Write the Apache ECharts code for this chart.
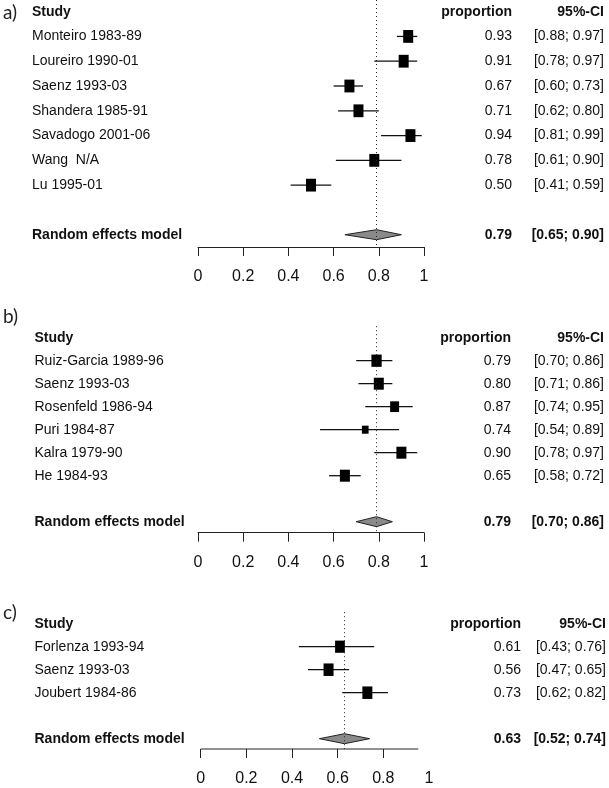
<!DOCTYPE html>
<html><head><meta charset="utf-8">
<script src="https://cdn.jsdelivr.net/npm/echarts@6/dist/echarts.min.js"></script>
<style>html,body{margin:0;padding:0;background:#fff}#c{width:609px;height:788px}</style>
</head><body><div id="c"></div><script>
// ---------- data ----------
const studiesA = ['Monteiro 1983-89','Loureiro 1990-01','Saenz 1993-03','Shandera 1985-91','Savadogo 2001-06','Wang  N/A','Lu 1995-01'];
const propA  = [0.93,0.91,0.67,0.71,0.94,0.78,0.50];
const lowerA = [0.88,0.78,0.60,0.62,0.81,0.61,0.41];
const upperA = [0.97,0.97,0.73,0.80,0.99,0.90,0.59];
const weightA = [1,1,1,1,1,1,1];
const pooledA = [0.79,0.65,0.90];

const studiesB = ['Ruiz-Garcia 1989-96','Saenz 1993-03','Rosenfeld 1986-94','Puri 1984-87','Kalra 1979-90','He 1984-93'];
const propB  = [0.79,0.80,0.87,0.74,0.90,0.65];
const lowerB = [0.70,0.71,0.74,0.54,0.78,0.58];
const upperB = [0.86,0.86,0.95,0.89,0.97,0.72];
const weightB = [1.05,1,0.8,0.45,1,1];
const pooledB = [0.79,0.70,0.86];

const studiesC = ['Forlenza 1993-94','Saenz 1993-03','Joubert 1984-86'];
const propC  = [0.61,0.56,0.73];
const lowerC = [0.43,0.47,0.62];
const upperC = [0.76,0.65,0.82];
const weightC = [0.95,1,1];
const pooledC = [0.63,0.52,0.74];

const panelLetters = ['a)','b)','c)'];
const headerLabels = ['Study','proportion','95%-CI'];
const pooledLabel = 'Random effects model';
const xTickValues = [0,0.2,0.4,0.6,0.8,1];
const xTickValuesC = [0,0.2,0.4,0.6,0.8];
const axisEndC = 0.953;

// ---------- layout ----------
const layouts = [
  {row0:11.5, pitch:24.8, yMin:-0.47, axisY:247, x0:198, x1:424, textX:32, propX:512, ciX:604, letterX:3, letterY:13, sqH:12.8},
  {row0:337.7, pitch:23, yMin:-0.5, axisY:532.7, x0:198, x1:424, textX:34.5, propX:511, ciX:604, letterX:3, letterY:317, sqH:12},
  {row0:623.7, pitch:23, yMin:-0.5, axisY:749, x0:200.7, x1:429, textX:34.5, propX:521, ciX:606, letterX:3, letterY:613, sqH:12.5}
];
const panels = [
  {studies:studiesA, prop:propA, lower:lowerA, upper:upperA, weight:weightA, pooled:pooledA},
  {studies:studiesB, prop:propB, lower:lowerB, upper:upperB, weight:weightB, pooled:pooledB},
  {studies:studiesC, prop:propC, lower:lowerC, upper:upperC, weight:weightC, pooled:pooledC}
];

const FONT = 'Liberation Sans';
const fmt = v => v.toFixed(2);
const ci = (lo,hi) => '[' + fmt(lo) + '; ' + fmt(hi) + ']';

function txt(x, y, s, align, bold, size, family, color) {
  return {type:'text', x:x, y:y, style:{text:s, align:align, verticalAlign:'middle',
    fill:color || '#111', fontSize:size || 14, fontWeight:bold ? 'bold' : 'normal', fontFamily:family || FONT}};
}

const grids = [], xAxes = [], yAxes = [], series = [];
panels.forEach((P, k) => {
  const L = layouts[k];
  const n = P.studies.length;
  const top = L.row0 + L.yMin * L.pitch;
  const yMax = (L.axisY - L.row0) / L.pitch;
  grids.push({left:L.x0, width:L.x1 - L.x0, top:top, height:L.axisY - top});
  const isC = k === 2;
  xAxes.push({
    gridIndex:k, type:'value', position:'bottom', min:0, max:1, interval:0.2,
    axisLine:{show:!isC, onZero:false, lineStyle:{color:'#222', width:1}},
    axisTick:Object.assign({show:true, length:9, inside:false, lineStyle:{color:'#222', width:1}}, isC ? {customValues:xTickValuesC} : {}),
    axisLabel:{show:true, customValues:xTickValues, fontSize:16, fontFamily:FONT, color:'#111', margin:22,
      formatter: v => String(+v.toFixed(1))},
    splitLine:{show:false}
  });
  yAxes.push({gridIndex:k, type:'value', inverse:true, min:L.yMin, max:yMax, show:false});

  // study whiskers + squares
  series.push({
    type:'custom', xAxisIndex:k, yAxisIndex:k, clip:false, silent:true,
    data:P.prop.map((p,i) => [p, P.lower[i], P.upper[i], i+1, P.weight[i]]),
    renderItem:function(params, api){
      const p=api.value(0), lo=api.value(1), hi=api.value(2), r=api.value(3), w=api.value(4);
      const a=api.coord([lo,r]), b=api.coord([hi,r]), c=api.coord([p,r]);
      const s=Math.sqrt(w), sw=10*s, sh=L.sqH*s;
      return {type:'group', children:[
        {type:'line', shape:{x1:a[0],y1:a[1],x2:b[0],y2:b[1]}, style:{stroke:'#111',lineWidth:1.3}},
        {type:'rect', shape:{x:c[0]-sw/2,y:c[1]-sh/2,width:sw,height:sh}, style:{fill:'#000'}}
      ]};
    }
  });

  // pooled diamond + dotted reference line (+ shortened axis line for panel c)
  series.push({
    type:'custom', xAxisIndex:k, yAxisIndex:k, clip:false, silent:true, z:3,
    data:[[P.pooled[0], P.pooled[1], P.pooled[2], n+2]],
    renderItem:function(params, api){
      const e=api.value(0), lo=api.value(1), hi=api.value(2), r=api.value(3);
      const pl=api.coord([lo,r]), pe=api.coord([e,r]), ph=api.coord([hi,r]);
      const t=api.coord([e,L.yMin]), b=api.coord([e,yMax]);
      const ch=[
        {type:'polygon', shape:{points:[[pl[0],pl[1]],[pe[0],pe[1]-5],[ph[0],ph[1]],[pe[0],pe[1]+5]]},
          style:{fill:'#8a8a8a', stroke:'#222', lineWidth:1}},
        {type:'line', shape:{x1:t[0],y1:t[1],x2:b[0],y2:b[1]}, style:{stroke:'#222',lineWidth:1,lineDash:[1,3]}}
      ];
      if (isC) {
        const a0=api.coord([0,yMax]), a1=api.coord([axisEndC,yMax]);
        ch.push({type:'line', shape:{x1:a0[0],y1:a0[1],x2:a1[0],y2:a1[1]}, style:{stroke:'#222',lineWidth:1}});
      }
      return {type:'group', children:ch};
    }
  });

  // text columns
  const rows = [0].concat(P.studies.map((s,i)=>i+1)).concat([n+2]);
  series.push({
    type:'custom', xAxisIndex:k, yAxisIndex:k, clip:false, silent:true,
    data:rows.map(r => [0, r]),
    renderItem:function(params, api){
      const i=params.dataIndex, r=api.value(1);
      const y=api.coord([0,r])[1];
      const ch=[];
      if (i===0) {
        ch.push(txt(L.textX, y, headerLabels[0], 'left', true));
        ch.push(txt(L.propX, y, headerLabels[1], 'right', true));
        ch.push(txt(L.ciX, y, headerLabels[2], 'right', true));
        ch.push(txt(L.letterX, L.letterY, panelLetters[k], 'left', false, 19, 'Lato', '#222'));
      } else if (i<=n) {
        const j=i-1;
        ch.push(txt(L.textX, y, P.studies[j], 'left', false));
        ch.push(txt(L.propX, y, fmt(P.prop[j]), 'right', false));
        ch.push(txt(L.ciX, y, ci(P.lower[j],P.upper[j]), 'right', false));
      } else {
        ch.push(txt(L.textX, y, pooledLabel, 'left', true));
        ch.push(txt(L.propX, y, fmt(P.pooled[0]), 'right', true));
        ch.push(txt(L.ciX, y, ci(P.pooled[1],P.pooled[2]), 'right', true));
      }
      return {type:'group', children:ch};
    }
  });
});

const chart = echarts.init(document.getElementById('c'), null, {renderer:'canvas'});
chart.setOption({animation:false, backgroundColor:'#fff', grid:grids, xAxis:xAxes, yAxis:yAxes, series:series});
</script></body></html>
